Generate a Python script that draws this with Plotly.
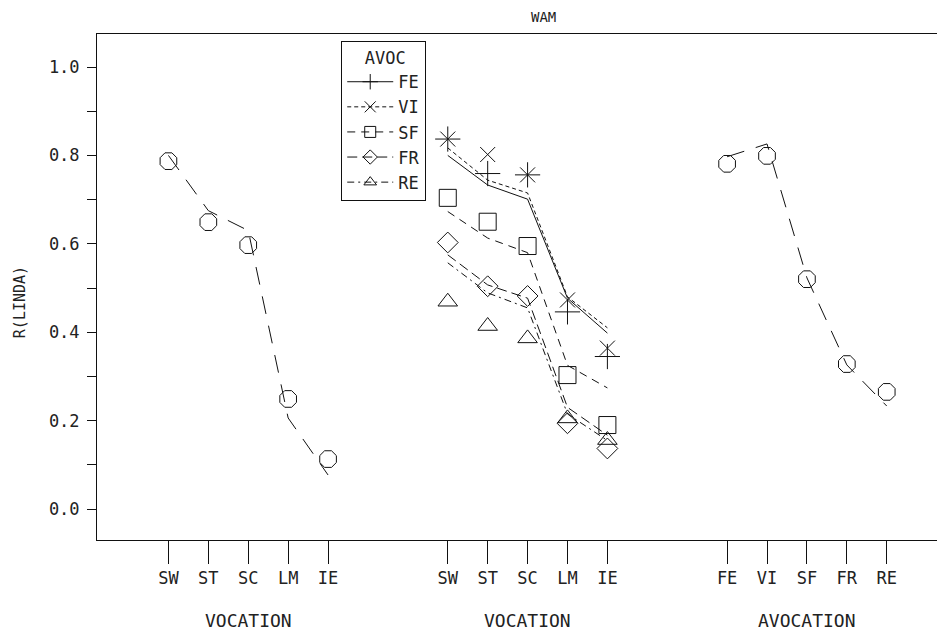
import plotly.graph_objects as go

# ---------------- data ----------------
voc_cats = ["SW", "ST", "SC", "LM", "IE"]
avoc_cats = ["FE", "VI", "SF", "FR", "RE"]
x_left = [0, 1, 2, 3, 4]
x_mid = [7, 8, 9, 10, 11]
x_right = [14, 15, 16, 17, 18]

# left panel: vocation overall
voc_obs = [0.787, 0.649, 0.597, 0.249, 0.113]
voc_fit = [0.800, 0.675, 0.630, 0.206, 0.077]

# middle panel: vocation by avocation
fe_obs = [0.837, 0.759, 0.756, 0.446, 0.345]
fe_fit = [0.800, 0.733, 0.701, 0.477, 0.398]
vi_obs = [0.837, 0.802, 0.756, 0.473, 0.364]
vi_fit = [0.817, 0.744, 0.715, 0.480, 0.410]
sf_obs = [0.704, 0.650, 0.595, 0.303, 0.190]
sf_fit = [0.673, 0.613, 0.580, 0.325, 0.274]
fr_obs = [0.603, 0.504, 0.482, 0.194, 0.137]
fr_fit = [0.575, 0.507, 0.477, 0.230, 0.167]
re_obs = [0.469, 0.414, 0.386, 0.205, 0.156]
re_fit = [0.557, 0.489, 0.455, 0.215, 0.155]

# right panel: avocation overall
avoc_obs = [0.781, 0.799, 0.520, 0.328, 0.265]
avoc_fit = [0.797, 0.826, 0.523, 0.326, 0.233]

y_ticks = [0.0, 0.1, 0.2, 0.3, 0.4, 0.5, 0.6, 0.7, 0.8, 0.9, 1.0]

FONT = "DejaVu Sans Mono"
INK = "#111111"
TXT = "#222222"

fig = go.Figure()

def fit_line(x, y, dash):
    fig.add_trace(go.Scatter(x=x, y=y, mode="lines", showlegend=False,
                             line=dict(color=INK, width=1, dash=dash),
                             hoverinfo="skip"))

def obs_pts(x, y, symbol, size):
    fig.add_trace(go.Scatter(x=x, y=y, mode="markers", showlegend=False,
                             marker=dict(symbol=symbol, size=size, color=INK,
                                         line=dict(color=INK, width=1))))

# left
fit_line(x_left, voc_fit, "18px,12px")
obs_pts(x_left, voc_obs, "octagon-open", 18)
# right
fit_line(x_right, avoc_fit, "18px,12px")
obs_pts(x_right, avoc_obs, "octagon-open", 18)

series = [
    ("FE", fe_obs, fe_fit, "solid", "cross-thin-open", 18),
    ("VI", vi_obs, vi_fit, "4px,3px", "x-thin-open", 15),
    ("SF", sf_obs, sf_fit, "8px,6px", "square-open", 17),
    ("FR", fr_obs, fr_fit, "10px,5px", "diamond-open", 16),
    ("RE", re_obs, re_fit, "7px,4px,2px,4px", "triangle-up-open", 17),
]
for name, obs, fit, dash, sym, size in series:
    fit_line(x_mid, fit, dash)
    obs_pts(x_mid, obs, sym, size)

# legend entries
for name, obs, fit, dash, sym, size in series:
    fig.add_trace(go.Scatter(x=[None], y=[None], mode="lines+markers", name=name,
                             line=dict(color=INK, width=1, dash=dash),
                             marker=dict(symbol=sym, size=11, color=INK,
                                         line=dict(color=INK, width=1))))

x_tickvals = x_left + x_mid + x_right
x_ticktext = voc_cats + voc_cats + avoc_cats

fig.update_layout(
    width=937, height=627,
    margin=dict(l=89, r=0, t=26, b=95),
    paper_bgcolor="white", plot_bgcolor="white",
    font=dict(family=FONT, size=14, color=TXT),
    showlegend=True,
    legend=dict(x=0.288, y=0.986, xanchor="left", yanchor="top",
                bordercolor=INK, borderwidth=1, bgcolor="white",
                font=dict(family=FONT, size=17, color=TXT),
                title=dict(text="  AVOC", font=dict(family=FONT, size=17, color=TXT)),
                itemwidth=46, tracegroupgap=0),
    xaxis=dict(range=[-1.79, 19.46], tickmode="array", tickvals=x_tickvals,
               ticktext=x_ticktext, ticks="outside", ticklen=23, tickwidth=1,
               tickcolor=INK, showline=True, linecolor=INK, linewidth=1,
               mirror=True, showgrid=False, zeroline=False,
               tickfont=dict(family=FONT, size=17, color=TXT)),
    yaxis=dict(range=[-0.0701, 1.0747], tickmode="array", tickvals=y_ticks,
               ticktext=[f"{v:.1f}" if round(v * 10) % 2 == 0 else "" for v in y_ticks],
               ticks="outside", ticklen=9, tickwidth=1, tickcolor=INK,
               showline=True, linecolor=INK, linewidth=1, mirror=False,
               showgrid=False, zeroline=False, ticklabelstandoff=4,
               tickfont=dict(family=FONT, size=17, color=TXT)),
    annotations=[
        dict(text="WAM", xref="paper", yref="paper", x=0.526, y=1.0336,
             xanchor="center", yanchor="middle",
             showarrow=False, font=dict(family=FONT, size=14, color=TXT)),
        dict(text="R(LINDA)", xref="paper", yref="paper", x=-0.0908, y=0.47,
             xanchor="center", yanchor="middle",
             textangle=-90, showarrow=False, font=dict(family=FONT, size=15, color=TXT)),
        dict(text="VOCATION", xref="x", yref="paper", x=2, y=-0.160,
             xanchor="center", yanchor="middle",
             showarrow=False, font=dict(family=FONT, size=18, color=TXT)),
        dict(text="VOCATION", xref="x", yref="paper", x=9, y=-0.160,
             xanchor="center", yanchor="middle",
             showarrow=False, font=dict(family=FONT, size=18, color=TXT)),
        dict(text="AVOCATION", xref="x", yref="paper", x=16, y=-0.160,
             xanchor="center", yanchor="middle",
             showarrow=False, font=dict(family=FONT, size=18, color=TXT)),
    ],
)

fig.write_html("out.html")
